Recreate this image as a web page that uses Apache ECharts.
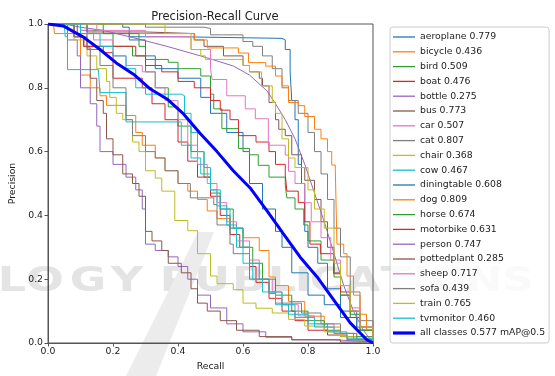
<!DOCTYPE html>
<html><head><meta charset="utf-8">
<script src="https://cdn.jsdelivr.net/npm/echarts@6/dist/echarts.min.js"></script>
<style>html,body{margin:0;padding:0;background:#fff}#c{width:555px;height:376px}</style>
</head><body><div id="c"></div>
<script>
// ---- data (recall, precision) ----
const classNames = ['aeroplane','bicycle','bird','boat','bottle','bus','car','cat','chair','cow','diningtable','dog','horse','motorbike','person','pottedplant','sheep','sofa','train','tvmonitor'];
const apValues = [0.779,0.436,0.509,0.476,0.275,0.773,0.507,0.807,0.368,0.467,0.608,0.809,0.674,0.631,0.747,0.285,0.717,0.439,0.765,0.460];
const mapAll = 0.577;
const xTicks = [0, 0.2, 0.4, 0.6, 0.8, 1.0];

const aeroplane = [[0,1],[0.1,1],[0.23,0.99],[0.25,0.96],[0.4,0.955],[0.72,0.95],[0.73,0.92],[0.745,0.85],[0.75,0.76],[0.76,0.7],[0.77,0.56],[0.78,0.5],[0.79,0.35],[0.8,0.3],[0.83,0.25],[0.86,0.17],[0.9,0.1],[0.95,0.05],[1,0]];
const bicycle = [[0,1],[0.03,1],[0.06,0.97],[0.1,0.84],[0.13,0.8],[0.16,0.775],[0.18,0.745],[0.24,0.713],[0.27,0.66],[0.29,0.62],[0.33,0.58],[0.36,0.54],[0.4,0.5],[0.43,0.476],[0.46,0.45],[0.49,0.414],[0.52,0.39],[0.56,0.36],[0.6,0.33],[0.65,0.29],[0.68,0.207],[0.7,0.18],[0.74,0.13],[0.79,0.084],[0.85,0.05],[0.9,0.03],[0.95,0.012],[1,0]];
const bird = [[0,1],[0.05,1],[0.1,0.98],[0.17,0.97],[0.2,0.93],[0.26,0.9],[0.3,0.85],[0.33,0.8],[0.37,0.74],[0.4,0.68],[0.44,0.6],[0.48,0.52],[0.5,0.47],[0.53,0.42],[0.57,0.36],[0.6,0.3],[0.63,0.25],[0.66,0.2],[0.7,0.15],[0.75,0.1],[0.8,0.07],[0.85,0.04],[0.9,0.02],[1,0]];
const boat = [[0,1],[0.04,1],[0.08,0.96],[0.11,0.93],[0.17,0.91],[0.2,0.83],[0.29,0.8],[0.32,0.75],[0.36,0.7],[0.4,0.63],[0.43,0.57],[0.46,0.52],[0.5,0.46],[0.53,0.4],[0.56,0.34],[0.59,0.3],[0.62,0.24],[0.64,0.19],[0.68,0.14],[0.72,0.1],[0.76,0.07],[0.8,0.04],[0.86,0.025],[0.92,0.01],[1,0]];
const bottle = [[0,1],[0.04,1],[0.06,0.95],[0.09,0.9],[0.1,0.8],[0.13,0.75],[0.15,0.68],[0.16,0.6],[0.2,0.56],[0.24,0.52],[0.27,0.48],[0.29,0.42],[0.3,0.31],[0.33,0.29],[0.37,0.27],[0.4,0.24],[0.43,0.2],[0.46,0.15],[0.5,0.11],[0.55,0.06],[0.6,0.035],[0.67,0.018],[0.75,0.01],[0.88,0.004],[1,0]];
const bus = [[0,1],[0.08,1],[0.12,0.975],[0.3,0.97],[0.45,0.95],[0.48,0.93],[0.54,0.9],[0.6,0.87],[0.62,0.85],[0.65,0.83],[0.66,0.806],[0.68,0.754],[0.7,0.7],[0.71,0.67],[0.73,0.65],[0.75,0.59],[0.78,0.55],[0.79,0.51],[0.82,0.45],[0.84,0.38],[0.86,0.3],[0.88,0.22],[0.9,0.15],[0.93,0.08],[0.96,0.04],[1,0]];
const car = [[0,1],[0.06,1],[0.1,0.98],[0.14,0.95],[0.2,0.9],[0.24,0.87],[0.29,0.85],[0.33,0.8],[0.36,0.76],[0.4,0.7],[0.43,0.62],[0.46,0.56],[0.49,0.5],[0.52,0.44],[0.55,0.38],[0.58,0.32],[0.62,0.26],[0.65,0.2],[0.69,0.16],[0.72,0.12],[0.77,0.085],[0.82,0.06],[0.88,0.03],[0.94,0.012],[1,0]];
const cat = [[0,1],[0.15,1],[0.3,0.99],[0.48,0.986],[0.5,0.966],[0.54,0.966],[0.6,0.945],[0.63,0.93],[0.66,0.9],[0.69,0.86],[0.72,0.8],[0.74,0.76],[0.77,0.72],[0.8,0.66],[0.82,0.6],[0.84,0.53],[0.86,0.45],[0.88,0.36],[0.9,0.27],[0.93,0.16],[0.96,0.07],[1,0]];
const chair = [[0,1],[0.05,1],[0.08,0.95],[0.12,0.9],[0.15,0.86],[0.18,0.82],[0.19,0.77],[0.21,0.72],[0.23,0.7],[0.26,0.63],[0.28,0.6],[0.3,0.54],[0.33,0.517],[0.35,0.476],[0.39,0.384],[0.43,0.352],[0.46,0.28],[0.5,0.21],[0.52,0.186],[0.57,0.167],[0.6,0.125],[0.64,0.109],[0.69,0.094],[0.74,0.074],[0.79,0.053],[0.85,0.035],[0.9,0.02],[0.95,0.01],[1,0]];
const cow = [[0,1],[0.05,1],[0.053,0.96],[0.06,0.857],[0.155,0.857],[0.16,0.785],[0.23,0.785],[0.24,0.693],[0.4,0.693],[0.41,0.62],[0.44,0.58],[0.47,0.53],[0.5,0.48],[0.53,0.42],[0.56,0.36],[0.6,0.3],[0.62,0.25],[0.65,0.2],[0.68,0.16],[0.72,0.12],[0.76,0.08],[0.82,0.05],[0.88,0.03],[0.94,0.01],[1,0]];
const diningtable = [[0,1],[0.05,1],[0.12,0.97],[0.25,0.95],[0.3,0.9],[0.33,0.86],[0.4,0.83],[0.47,0.77],[0.5,0.72],[0.55,0.66],[0.6,0.6],[0.62,0.5],[0.66,0.42],[0.7,0.35],[0.72,0.3],[0.75,0.22],[0.8,0.15],[0.85,0.12],[0.9,0.08],[0.95,0.04],[1,0]];
const dog = [[0,1],[0.017,1],[0.02,0.97],[0.42,0.97],[0.45,0.95],[0.49,0.925],[0.586,0.909],[0.617,0.879],[0.67,0.868],[0.7,0.837],[0.72,0.806],[0.74,0.754],[0.77,0.744],[0.79,0.71],[0.82,0.67],[0.84,0.64],[0.86,0.6],[0.873,0.558],[0.884,0.543],[0.889,0.31],[0.91,0.28],[0.92,0.21],[0.94,0.15],[0.96,0.09],[0.98,0.04],[1,0]];
const horse = [[0,1],[0.1,1],[0.17,0.97],[0.27,0.97],[0.28,0.93],[0.3,0.889],[0.37,0.88],[0.4,0.86],[0.47,0.837],[0.5,0.78],[0.51,0.734],[0.535,0.672],[0.586,0.61],[0.62,0.59],[0.647,0.557],[0.68,0.52],[0.73,0.495],[0.735,0.455],[0.76,0.42],[0.787,0.37],[0.8,0.32],[0.84,0.26],[0.88,0.207],[0.9,0.15],[0.93,0.09],[0.96,0.04],[1,0]];
const motorbike = [[0,1],[0.06,1],[0.08,0.96],[0.11,0.93],[0.25,0.93],[0.27,0.9],[0.3,0.87],[0.35,0.85],[0.4,0.82],[0.45,0.8],[0.5,0.76],[0.53,0.73],[0.56,0.7],[0.586,0.65],[0.64,0.63],[0.68,0.6],[0.7,0.56],[0.73,0.527],[0.735,0.476],[0.77,0.44],[0.79,0.38],[0.806,0.31],[0.838,0.28],[0.879,0.217],[0.9,0.16],[0.93,0.1],[0.96,0.05],[1,0]];
const person = [[0,1],[0.05,1],[0.1,0.99],[0.17,0.98],[0.263,0.957],[0.366,0.93],[0.469,0.9],[0.505,0.889],[0.571,0.868],[0.62,0.84],[0.674,0.79],[0.7,0.75],[0.73,0.7],[0.76,0.64],[0.79,0.56],[0.82,0.47],[0.85,0.38],[0.88,0.28],[0.91,0.18],[0.94,0.1],[0.97,0.04],[1,0]];
const pottedplant = [[0,1],[0.05,1],[0.09,0.97],[0.12,0.925],[0.13,0.83],[0.15,0.76],[0.17,0.72],[0.18,0.64],[0.2,0.59],[0.23,0.53],[0.26,0.5],[0.28,0.46],[0.3,0.35],[0.32,0.32],[0.35,0.29],[0.37,0.25],[0.41,0.22],[0.44,0.17],[0.46,0.125],[0.49,0.1],[0.53,0.07],[0.58,0.04],[0.65,0.02],[0.75,0.01],[0.9,0.003],[1,0]];
const sheep = [[0,1],[0.1,1],[0.15,0.98],[0.3,0.96],[0.44,0.92],[0.49,0.92],[0.5,0.86],[0.505,0.826],[0.55,0.775],[0.607,0.734],[0.638,0.703],[0.678,0.62],[0.73,0.589],[0.74,0.538],[0.76,0.5],[0.79,0.44],[0.81,0.38],[0.84,0.33],[0.87,0.26],[0.9,0.18],[0.93,0.11],[0.96,0.05],[1,0]];
const sofa = [[0,1],[0.05,1],[0.08,0.96],[0.12,0.92],[0.16,0.87],[0.2,0.8],[0.24,0.7],[0.26,0.65],[0.3,0.6],[0.33,0.58],[0.36,0.54],[0.4,0.5],[0.438,0.455],[0.51,0.434],[0.52,0.37],[0.56,0.31],[0.57,0.28],[0.62,0.2],[0.68,0.155],[0.7,0.125],[0.78,0.094],[0.84,0.06],[0.9,0.03],[0.95,0.01],[1,0]];
const train = [[0,1],[0.35,1],[0.36,0.97],[0.43,0.97],[0.44,0.92],[0.47,0.9],[0.484,0.889],[0.586,0.889],[0.6,0.87],[0.62,0.85],[0.657,0.806],[0.69,0.754],[0.7,0.72],[0.72,0.64],[0.74,0.58],[0.76,0.55],[0.8,0.48],[0.82,0.42],[0.85,0.36],[0.88,0.25],[0.9,0.18],[0.93,0.1],[0.96,0.05],[1,0]];
const tvmonitor = [[0,1],[0.08,1],[0.1,0.97],[0.16,0.93],[0.2,0.9],[0.24,0.86],[0.27,0.8],[0.3,0.78],[0.41,0.775],[0.42,0.72],[0.44,0.66],[0.46,0.6],[0.48,0.55],[0.5,0.48],[0.52,0.43],[0.55,0.37],[0.58,0.3],[0.6,0.25],[0.63,0.2],[0.66,0.16],[0.7,0.12],[0.74,0.09],[0.8,0.06],[0.86,0.035],[0.92,0.015],[1,0]];
const allClasses = [[0,1],[0.047,0.994],[0.11,0.958],[0.16,0.92],[0.21,0.878],[0.264,0.842],[0.315,0.796],[0.366,0.765],[0.417,0.718],[0.469,0.656],[0.52,0.6],[0.57,0.54],[0.622,0.486],[0.674,0.414],[0.725,0.341],[0.776,0.269],[0.828,0.207],[0.879,0.135],[0.93,0.063],[0.98,0.011],[1,0]];

const curves = [aeroplane,bicycle,bird,boat,bottle,bus,car,cat,chair,cow,diningtable,dog,horse,motorbike,person,pottedplant,sheep,sofa,train,tvmonitor];
const smoothClasses = ['person'];

// background watermark of the source page
const watermarkLetters = ['L','O','G','Y','P','U','B','L','I','C','A','T','I','O','N','S'];

// ---- styling ----
const palette = ['#1f77b4','#ff7f0e','#2ca02c','#d62728','#9467bd','#8c564b','#e377c2','#7f7f7f','#bcbd22','#17becf'];
const FONT = 'DejaVu Sans';
const wmX = [12,45,88,127,176,212,249,282,303,326,363,396,421,449,484,518];

const series = classNames.map((n, i) => ({
  name: n + ' ' + apValues[i].toFixed(3),
  type: 'line',
  data: curves[i],
  step: smoothClasses.includes(n) ? false : 'end',
  symbol: 'none',
  color: palette[i % 10],
  lineStyle: { width: 1, color: palette[i % 10] },
  z: 2
}));
series.push({
  name: 'all classes ' + mapAll.toFixed(3) + ' mAP@0.5',
  type: 'line',
  data: allClasses,
  symbol: 'none',
  color: '#0000ff',
  lineStyle: { width: 3, color: '#0000ff' },
  z: 3
});

const legendData = series.map((s, i) => ({
  name: s.name,
  icon: i < classNames.length ? 'path://M0,0H22V1.3H0Z' : 'path://M0,0H22V3.2H0Z'
}));

const graphics = watermarkLetters.map((ch, i) => ({
  type: 'text', x: wmX[i], y: 282, scaleX: 1.35, silent: true, z: -10,
  style: { text: ch, fill: '#e4e4e4', font: 'bold 33px "DejaVu Sans"', textAlign: 'center', textVerticalAlign: 'middle' }
}));
graphics.push({
  type: 'polygon', silent: true, z: -10,
  shape: { points: [[126,376],[156,376],[214,232],[198,232]] },
  style: { fill: '#ececec' }
});

const chart = echarts.init(document.getElementById('c'), null, { renderer: 'canvas' });
const axisCommon = {
  type: 'value', min: 0, max: 1, interval: 0.2,
  axisLine: { show: true, onZero: false, lineStyle: { color: '#555', width: 1 } },
  axisTick: { show: true, length: 3.5, lineStyle: { color: '#555' } },
  axisLabel: { formatter: v => v.toFixed(1), fontSize: 9.3, color: '#222', fontFamily: FONT },
  splitLine: { show: false }
};
chart.setOption({
  animation: false,
  backgroundColor: '#fff',
  textStyle: { fontFamily: FONT },
  graphic: graphics,
  grid: { left: 48, right: 182, top: 24, bottom: 29, show: true, borderColor: '#555', borderWidth: 1, backgroundColor: 'transparent' },
  xAxis: Object.assign({}, axisCommon, { axisLabel: Object.assign({}, axisCommon.axisLabel, { margin: 4 }),
    name: 'Recall', nameLocation: 'middle', nameGap: 19, nameTextStyle: { fontSize: 9.3, color: '#222', fontFamily: FONT } }),
  yAxis: Object.assign({}, axisCommon, { axisLabel: Object.assign({}, axisCommon.axisLabel, { margin: 5 }),
    name: 'Precision', nameLocation: 'middle', nameGap: 29, nameTextStyle: { fontSize: 9.3, color: '#222', fontFamily: FONT } }),
  title: {
    text: 'Precision-Recall Curve', left: 210, top: 6, textAlign: 'center',
    textStyle: { fontSize: 11.5, fontWeight: 'normal', color: '#222', fontFamily: FONT }
  },
  legend: {
    orient: 'vertical', left: 390, top: 27,
    padding: [4, 4, 4, 3],
    itemWidth: 22, itemHeight: 12, itemGap: 2.8,
    backgroundColor: 'rgba(255,255,255,0.8)', borderColor: '#ccc', borderWidth: 1, borderRadius: 3,
    textStyle: { fontSize: 9.3, color: '#222', fontFamily: FONT, lineHeight: 12 },
    data: legendData
  },
  series: series
});
</script></body></html>
